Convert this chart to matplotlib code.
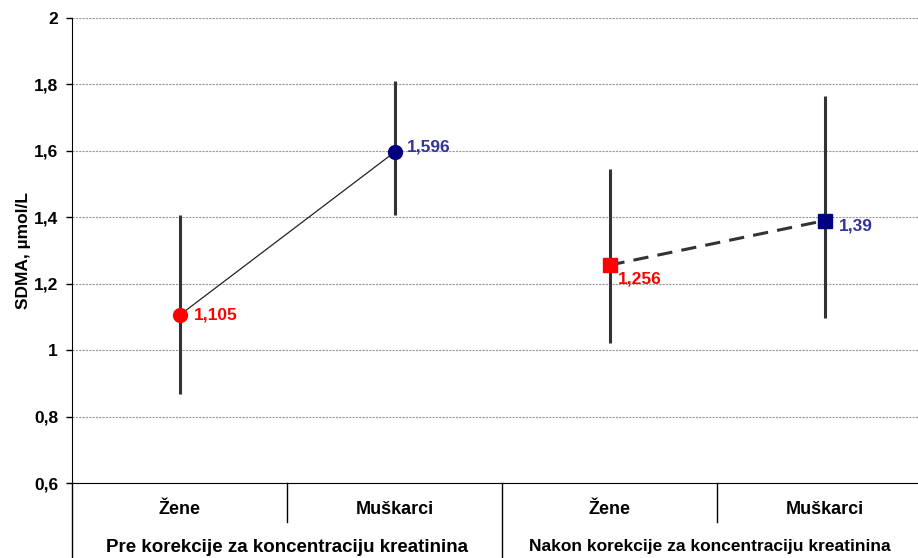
import matplotlib
matplotlib.use("Agg")
import matplotlib.pyplot as plt
import numpy as np

plt.rcParams['font.family'] = ['Liberation Sans', 'DejaVu Sans']
plt.rcParams['font.weight'] = 'bold'

# data
categories = ['Žene', 'Muškarci', 'Žene', 'Muškarci']
groups = ['Pre korekcije za koncentraciju kreatinina',
          'Nakon korekcije za koncentraciju kreatinina']
means = [1.105, 1.596, 1.256, 1.39]
lower = [0.868, 1.407, 1.021, 1.096]
upper = [1.407, 1.810, 1.546, 1.765]
yticks = [0.6, 0.8, 1.0, 1.2, 1.4, 1.6, 1.8, 2.0]

W, H = 918, 558
fig = plt.figure(figsize=(W / 100, H / 100), dpi=100)
# axis box: x from 72 px to 932 px (runs past the right edge), y from 18 to 483 px
ax = fig.add_axes([72 / W, (H - 483) / H, (932 - 72) / W, (483 - 18) / H])

x = np.arange(len(means)) + 0.5
m = np.array(means)
err = [m - np.array(lower), np.array(upper) - m]

ax.set_xlim(0, 4)
ax.set_ylim(0.6, 2.0)
ax.set_yticks(yticks)
ax.set_yticklabels([('%g' % v).replace('.', ',') for v in yticks], fontsize=12.5, fontweight='bold')
ax.tick_params(axis='y', direction='out', length=4, width=1, pad=6)
ax.set_xticks([])
ax.yaxis.grid(True, color='#9a9a9a', linestyle=(0, (2, 1)), linewidth=0.8)
ax.set_axisbelow(True)
for s in ['top', 'right']:
    ax.spines[s].set_visible(False)

# error bars
ax.errorbar(x, m, yerr=err, fmt='none', ecolor='#333333', elinewidth=2.2, capsize=0, zorder=2)

# connecting lines
ax.plot(x[:2], m[:2], color='#222222', lw=0.9, zorder=3)
ax.plot(x[2:], m[2:], color='#333333', lw=2.2, linestyle=(0, (5, 3)), zorder=3)

# markers
ax.plot(x[0], m[0], 'o', color='#ff0000', ms=10, zorder=4)
ax.plot(x[1], m[1], 'o', color='#000080', ms=10, zorder=4)
ax.plot(x[2], m[2], 's', color='#ff0000', ms=9.5, zorder=4)
ax.plot(x[3], m[3], 's', color='#000080', ms=9.5, zorder=4)

# value labels
fmt = lambda v: ('%g' % v).replace('.', ',')
ax.annotate(fmt(m[0]), (x[0], m[0]), xytext=(10, 0), textcoords='offset points',
            color='#ff0000', fontsize=12.5, fontweight='bold', va='center', ha='left')
ax.annotate(fmt(m[1]), (x[1], m[1]), xytext=(9, 4), textcoords='offset points',
            color='#333399', fontsize=12.5, fontweight='bold', va='center', ha='left')
ax.annotate(fmt(m[2]), (x[2], m[2]), xytext=(6, -10), textcoords='offset points',
            color='#ff0000', fontsize=12.5, fontweight='bold', va='center', ha='left')
ax.annotate(fmt(m[3]), (x[3], m[3]), xytext=(10, -4), textcoords='offset points',
            color='#333399', fontsize=12.5, fontweight='bold', va='center', ha='left')

ax.set_ylabel('SDMA, µmol/L', fontsize=12.5, fontweight='bold', labelpad=2)

# two-level category axis below the plot
tr = ax.get_xaxis_transform()
ax_h = 483 - 18
for xb in [0, 2, 4]:
    ax.plot([xb, xb], [0, -75 / ax_h], transform=tr, color='black', lw=1, clip_on=False)
for xb in [1, 3]:
    ax.plot([xb, xb], [0, -39 / ax_h], transform=tr, color='black', lw=1, clip_on=False)
for xi, lab in zip(x, categories):
    ax.text(xi, -27 / ax_h, lab, transform=tr, ha='center', va='center',
            fontsize=13, fontweight='bold')

# group labels are centred on the visible part of each group
x_vis = (W - 72) / 215.0
group_centers = [1.0, (2 + x_vis) / 2]
group_sizes = [13.5, 12.5]
for xc, lab, fs in zip(group_centers, groups, group_sizes):
    ax.text(xc, -64 / ax_h, lab, transform=tr, ha='center', va='center',
            fontsize=fs, fontweight='bold')

fig.savefig('out.png', dpi=100)
